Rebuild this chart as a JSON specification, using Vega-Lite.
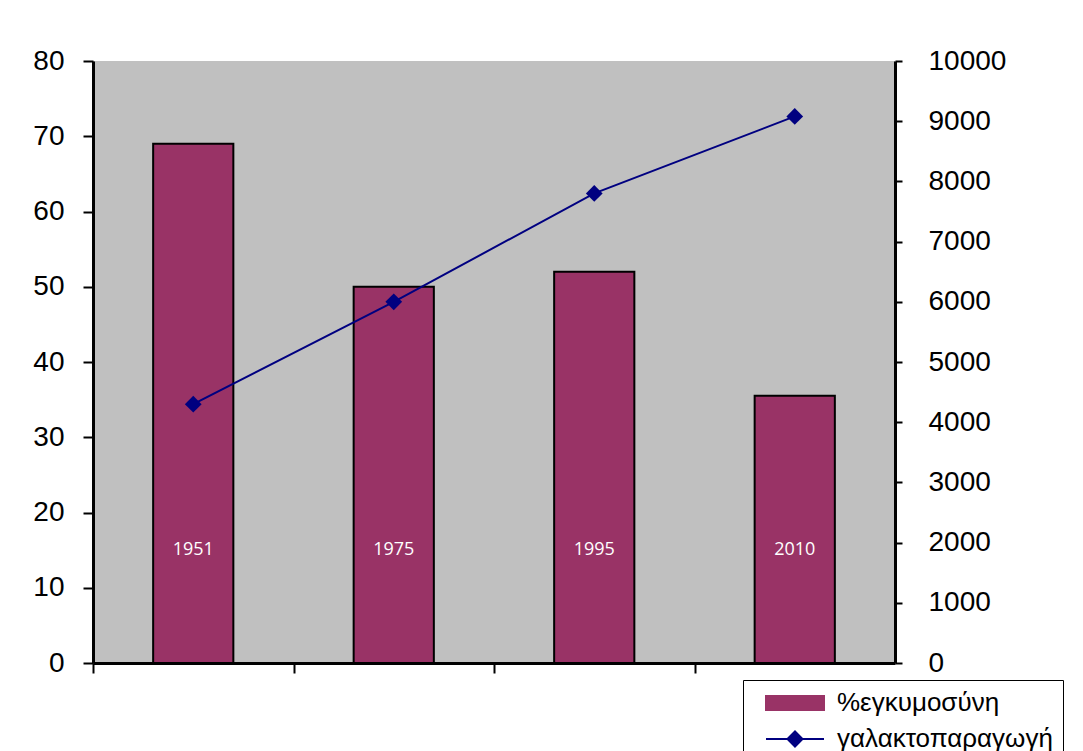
{
  "$schema": "https://vega.github.io/schema/vega-lite/v6.json",
  "width": 802,
  "height": 602,
  "autosize": {"type": "none"},
  "padding": {"left": 93, "top": 61, "right": 188, "bottom": 88},
  "background": "white",
  "config": {
    "font": "Liberation Sans",
    "view": {"fill": "#C0C0C0", "stroke": null},
    "legend": {
      "orient": "none",
      "legendX": 650,
      "legendY": 619,
      "title": null,
      "fillColor": "white",
      "strokeColor": "black",
      "padding": 10,
      "labelFontSize": 26,
      "labelFont": "Liberation Sans",
      "labelColor": "black",
      "labelOffset": 58,
      "rowPadding": 10,
      "symbolSize": 400,
      "labelLimit": 400,
      "symbolType": {"expr": "datum.value === '%εγκυμοσύνη' ? 'M0,-0.7H5.8V0.7H0Z' : 'M0,0H5.8M2.15,0L2.9,-0.75L3.65,0L2.9,0.75Z'"},
      "symbolStrokeColor": {"expr": "datum.value === '%εγκυμοσύνη' ? 'black' : '#000080'"},
      "symbolStrokeWidth": 2,
      "symbolOpacity": 1
    }
  },
  "data": {
    "values": [
      {"year": "1951", "pct": 69, "milk": 4300},
      {"year": "1975", "pct": 50, "milk": 6000},
      {"year": "1995", "pct": 52, "milk": 7800},
      {"year": "2010", "pct": 35.5, "milk": 9080}
    ]
  },
  "encoding": {
    "x": {
      "field": "year",
      "type": "nominal",
      "sort": null,
      "scale": {"paddingInner": 0.6, "paddingOuter": 0.3},
      "axis": {
        "title": null,
        "labels": false,
        "domainColor": "black",
        "domainWidth": 3,
        "tickColor": "black",
        "tickWidth": 2,
        "tickSize": 10,
        "tickOffset": -100.25
      }
    }
  },
  "layer": [
    {
      "layer": [
        {
          "mark": {"type": "bar", "stroke": "black", "strokeWidth": 2},
          "encoding": {
            "y": {
              "field": "pct",
              "type": "quantitative",
              "scale": {"domain": [0, 80], "nice": false},
              "axis": {
                "orient": "left",
                "title": null,
                "values": [0, 10, 20, 30, 40, 50, 60, 70, 80],
                "grid": false,
                "domainColor": "black",
                "domainWidth": 3,
                "tickColor": "black",
                "tickWidth": 2,
                "tickSize": 10,
                "labelPadding": 19,
                "labelFontSize": 28,
                "labelColor": "black",
                "labelFont": "Liberation Sans"
              }
            },
            "color": {
              "datum": "%εγκυμοσύνη",
              "scale": {
                "domain": ["%εγκυμοσύνη", "γαλακτοπαραγωγή"],
                "range": ["#993366", "#000080"]
              },
              "legend": {
                "encode": {
                  "legend": {"strokeWidth": {"value": 2}}
                }
              }
            }
          }
        },
        {
          "mark": {"type": "text", "color": "white", "font": "Open Sans", "fontSize": 18, "baseline": "middle"},
          "encoding": {
            "y": {"datum": 15, "type": "quantitative"},
            "text": {"field": "year"}
          }
        }
      ]
    },
    {
      "mark": {
        "type": "line",
        "strokeWidth": 2,
        "point": {"shape": "diamond", "size": 280, "filled": true}
      },
      "encoding": {
        "y": {
          "field": "milk",
          "type": "quantitative",
          "scale": {"domain": [0, 10000], "nice": false},
          "axis": {
            "orient": "right",
            "title": null,
            "format": "d",
            "values": [0, 1000, 2000, 3000, 4000, 5000, 6000, 7000, 8000, 9000, 10000],
            "grid": false,
            "domainColor": "black",
            "domainWidth": 3,
            "tickColor": "black",
            "tickWidth": 2,
            "tickSize": 7,
            "labelPadding": 26,
            "labelFontSize": 28,
            "labelColor": "black",
            "labelFont": "Liberation Sans"
          }
        },
        "color": {"datum": "γαλακτοπαραγωγή"}
      }
    }
  ],
  "resolve": {"scale": {"y": "independent"}}
}
